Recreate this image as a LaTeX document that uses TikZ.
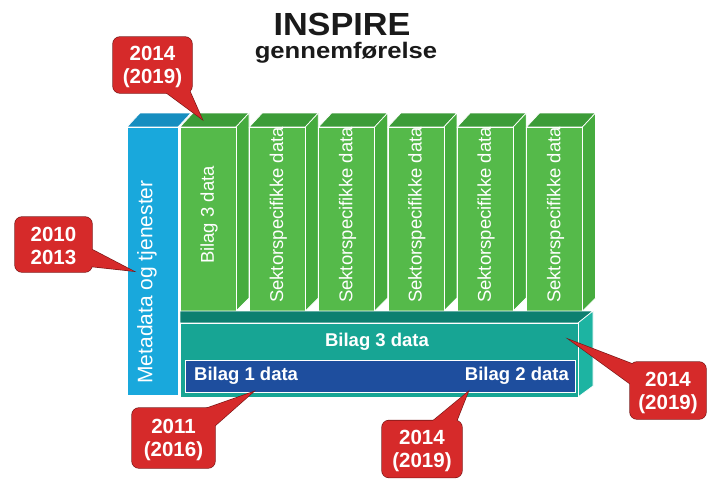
\documentclass[tikz,border=0pt]{standalone}
\usepackage{fontspec}
\setmainfont{Liberation Sans}
\usetikzlibrary{calc}
\definecolor{calred}{HTML}{D62A2A}
\definecolor{calborder}{HTML}{7A1616}
\definecolor{gfront}{HTML}{55BA4A}
\definecolor{gside}{HTML}{46AC3E}
\definecolor{gtop}{HTML}{3C9C38}
\definecolor{bfront}{HTML}{19A8DC}
\definecolor{btop}{HTML}{168EC0}
\definecolor{tfront}{HTML}{17A594}
\definecolor{ttop}{HTML}{0D7F70}
\definecolor{tside}{HTML}{1DB4A2}
\definecolor{dblue}{HTML}{1E4E9E}
\definecolor{titlecol}{HTML}{1A1A1A}
\pgfdeclarelayer{bg}
\pgfdeclarelayer{back}
\pgfsetlayers{bg,main,back}
\begin{document}
\begin{tikzpicture}[x=1pt,y=-1pt,
  face/.style={draw=white,line width=0.7pt},
  coltext/.style={text=white,rotate=90,font=\fontsize{18.5}{20}\selectfont,inner sep=0pt},
  boldtext/.style={text=white,font=\fontsize{18.5}{20}\selectfont\bfseries,inner sep=0pt},
  caltext/.style={text=white,font=\fontsize{20.5}{23}\selectfont\bfseries,align=center,inner sep=0pt},
  calout/.style={draw=calborder,line width=1.3pt,fill=calred,rounded corners=7pt},
  calfill/.style={fill=calred,rounded corners=7pt},
  calouttri/.style={draw=calborder,line width=1.3pt,fill=calred,line join=miter},
  calfilltri/.style={fill=calred}]
\useasboundingbox (0,0) rectangle (707,479);
\begin{pgfonlayer}{bg}
\fill[white] (0,0) rectangle (707,479);
\end{pgfonlayer}

% title
\node[anchor=base,text=titlecol,font=\fontsize{32}{36}\selectfont\bfseries,inner sep=0pt,xscale=1.07] (title) at (342,35) {INSPIRE};
\node[anchor=base,text=titlecol,font=\fontsize{22.5}{26}\selectfont\bfseries,inner sep=0pt,xscale=1.14] (sub) at (346,58) {gennemførelse};

% blue metadata bar
\path[face,fill=btop] (127,127) -- (140,113) -- (191,113) -- (178,127) -- cycle;
\path[face,fill=bfront] (127,127) rectangle (178,395);
\node[coltext,font=\fontsize{21}{22}\selectfont] (meta) at (147,282) {Metadata og tjenester};

% green columns
\foreach \i/\lab in {0/Bilag 3 data,1/Sektorspecifikke data,2/Sektorspecifikke data,3/Sektorspecifikke data,4/Sektorspecifikke data,5/Sektorspecifikke data}{
  \pgfmathsetmacro\x{180+69.3*\i}
  \path[face,fill=gtop] (\x,127) -- (\x+13,113) -- (\x+69,113) -- (\x+56,127) -- cycle;
  \path[face,fill=gside] (\x+56,127) -- (\x+69,113) -- (\x+69,298) -- (\x+56,311) -- cycle;
  \path[face,fill=gfront] (\x,127) rectangle (\x+56,311);
  \node[coltext] (col\i) at (\x+29,215) {\lab};
}

% teal slab
\path[face,fill=ttop] (180,311) -- (593,311) -- (578,323) -- (180,323) -- cycle;
\path[face,fill=tside] (578,323) -- (593,311) -- (593,386) -- (578,397) -- cycle;
\path[face,fill=tfront] (180,323) rectangle (578,397);
\node[boldtext] (b3) at (377,342) {Bilag 3 data};

% dark blue box
\node[draw=white,line width=1pt,fill=dblue,minimum width=390pt,minimum height=32pt,inner sep=0pt] (b12) at (380,376) {};
\node[boldtext,anchor=west] (b1) at (194,376) {Bilag 1 data};
\node[boldtext,anchor=east] (b2) at (569,376) {Bilag 2 data};

% callouts
\coordinate (c1) at (152.5,65);
\coordinate (c2) at (53.5,244.5);
\coordinate (c3) at (668,390.5);
\coordinate (c4) at (173.5,438);
\coordinate (c5) at (422,449);
\coordinate (p1) at (202,119);
\coordinate (p2) at (133,271);
\coordinate (p3) at (570,340);
\coordinate (p4) at (253,392);
\coordinate (p5) at (468,392);

\begin{pgfonlayer}{back}
  \foreach \c/\p/\w/\h/\ax/\ay/\bx/\by in {c1/p1/79/56/160/88/187/85, c2/p2/77/55/87/247/87/266, c3/p3/76/57/648/370/636/388, c4/p4/83/60/196/412/210/430, c5/p5/80/57/428/425/455/425}{
    \path[calout] ($(\c)+(-\w/2,-\h/2)$) rectangle ($(\c)+(\w/2,\h/2)$);
    \path[calouttri] (\ax,\ay) -- (\p) -- (\bx,\by) -- cycle;
  }
  \foreach \c/\p/\w/\h/\ax/\ay/\bx/\by in {c1/p1/79/56/160/88/187/85, c2/p2/77/55/87/247/87/266, c3/p3/76/57/648/370/636/388, c4/p4/83/60/196/412/210/430, c5/p5/80/57/428/425/455/425}{
    \path[calfill] ($(\c)+(-\w/2,-\h/2)$) rectangle ($(\c)+(\w/2,\h/2)$);
    \path[calfilltri] (\ax,\ay) -- (\p) -- (\bx,\by) -- cycle;
  }
  \node[caltext] (t1) at ($(c1)+(0,2)$) {2014\\(2019)};
  \node[caltext] (t2) at ($(c2)+(0,1)$) {2010\\2013};
  \node[caltext] (t3) at ($(c3)+(0,2)$) {2014\\(2019)};
  \node[caltext] (t4) at ($(c4)+(0,2)$) {2011\\(2016)};
  \node[caltext] (t5) at ($(c5)+(0,2)$) {2014\\(2019)};
\end{pgfonlayer}
\end{tikzpicture}
\end{document}
